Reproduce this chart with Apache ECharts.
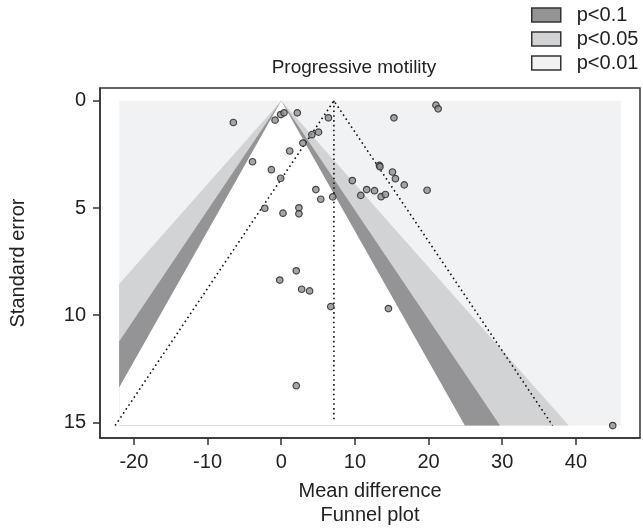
<!DOCTYPE html>
<html>
<head>
<meta charset="utf-8">
<script src="https://cdn.jsdelivr.net/npm/echarts@6/dist/echarts.min.js"></script>
<style>html,body{margin:0;padding:0;background:#fff}#c{width:643px;height:532px}</style>
</head>
<body>
<div id="c"></div>
<script>
// ---- data ----
const meanDiff = [-6.5,-0.84,-0.07,0.38,2.18,6.41,4.16,5.06,2.94,1.15,-3.9,-1.34,-0.07,4.70,5.37,6.99,9.65,10.8,11.6,-2.23,0.24,2.40,2.40,21.0,21.3,15.3,13.33,13.4,15.1,15.5,16.7,19.8,12.66,13.56,14.14,2.04,-0.2,2.77,3.85,6.72,2.04,14.55,45.0];
const stdErr   = [1.01,0.90,0.64,0.56,0.56,0.79,1.58,1.46,1.97,2.34,2.84,3.21,3.61,4.14,4.59,4.48,3.72,4.41,4.14,5.01,5.24,4.99,5.27,0.20,0.37,0.79,3.01,3.07,3.32,3.63,3.92,4.17,4.19,4.47,4.37,7.93,8.36,8.79,8.87,9.60,13.29,9.69,15.15];
const pooledEstimate = 7.15;
const contourLabels = ['p<0.1','p<0.05','p<0.01'];
const contourZ = [1.645, 1.96, 2.576];
const xTicks = [-20,-10,0,10,20,30,40];
const yTicks = [0,5,10,15];
const pValueText = 'p-value=0.02';
const chartTitle = 'Progressive motility';

// region extents (data units)
const SE_MAX = 15.15, X_LO = -22.0, X_HI = 46.1;

const FONT = "'Liberation Sans', Arial, sans-serif";
const TXT = '#222';
const cols = {'p<0.1':'#949497','p<0.05':'#d2d3d5','p<0.01':'#f1f2f4'};

function funnelPoly(z){
  const pts=[[0,0]];
  if (z*SE_MAX <= X_HI) pts.push([z*SE_MAX, SE_MAX]);
  else { pts.push([X_HI, X_HI/z]); pts.push([X_HI, SE_MAX]); }
  if (z*SE_MAX <= -X_LO) pts.push([-z*SE_MAX, SE_MAX]);
  else { pts.push([X_LO, SE_MAX]); pts.push([X_LO, -X_LO/z]); }
  return pts;
}
function polySeries(name, pts, color){
  return {
    type:'custom', name: name, silent:true, z:1,
    data:[[0]],
    itemStyle:{color:color},
    renderItem: function(params, api){
      return {type:'polygon', shape:{points: pts.map(p=>api.coord(p))}, style:{fill:color}};
    }
  };
}
const series = [];
series.push(polySeries('p<0.01', [[X_LO,0],[X_HI,0],[X_HI,SE_MAX],[X_LO,SE_MAX]], cols['p<0.01']));
series.push(polySeries('p<0.05', funnelPoly(contourZ[2]), cols['p<0.05']));
series.push(polySeries('p<0.1', funnelPoly(contourZ[1]), cols['p<0.1']));
series.push(polySeries('inner', funnelPoly(contourZ[0]), '#ffffff'));

const dotted = {color:'#111', width:1.6, type:[1.6,3.2]};
series.push({type:'line', silent:true, symbol:'none', z:3, lineStyle:dotted,
  data:[[pooledEstimate-1.96*SE_MAX, SE_MAX],[pooledEstimate,0],[pooledEstimate+1.96*SE_MAX, SE_MAX]]});
series.push({type:'line', silent:true, symbol:'none', z:3, lineStyle:dotted,
  data:[[pooledEstimate,0],[pooledEstimate,15.0]]});
series.push({type:'scatter', z:5, symbolSize:6.5,
  itemStyle:{color:'#8e8e8e', borderColor:'#222', borderWidth:1.2},
  data: meanDiff.map((x,i)=>[x, stdErr[i]])});

const chart = echarts.init(document.getElementById('c'));
chart.setOption({
  animation:false,
  backgroundColor:'#fff',
  grid:{left:97, top:88, right:3, bottom:93, show:true, borderColor:'#333', borderWidth:1.5, backgroundColor:'#fff'},
  legend:{
    data: contourLabels, orient:'vertical', left:531, top:5, padding:0, itemWidth:29, itemHeight:14, itemGap:4,
    icon:'rect', selectedMode:false,
    itemStyle:{borderColor:'#333', borderWidth:1.5},
    textStyle:{fontFamily:FONT, fontSize:20, color:TXT, padding:[0,0,0,11]}
  },
  xAxis:{
    type:'value', min:-24.6, max:48.7,
    name:'Mean difference\nFunnel plot', nameLocation:'middle', nameGap:41,
    nameTextStyle:{fontFamily:FONT, fontSize:20, color:TXT, lineHeight:24},
    axisLine:{show:true, onZero:false, lineStyle:{color:'#333', width:1.5}},
    axisTick:{show:true, length:7, customValues:xTicks, lineStyle:{color:'#333', width:1.5}},
    axisLabel:{customValues:xTicks, fontFamily:FONT, fontSize:20, color:TXT, margin:14},
    splitLine:{show:false}
  },
  yAxis:{
    type:'value', inverse:true, min:-0.6, max:15.73,
    name:'Standard error', nameLocation:'middle', nameGap:72, nameRotate:90,
    nameTextStyle:{fontFamily:FONT, fontSize:20, color:TXT},
    axisLine:{show:true, onZero:false, lineStyle:{color:'#333', width:1.5}},
    axisTick:{show:true, length:7, customValues:yTicks, lineStyle:{color:'#333', width:1.5}},
    axisLabel:{customValues:yTicks, fontFamily:FONT, fontSize:20, color:TXT, margin:14},
    splitLine:{show:false}
  },
  graphic:[
    {type:'text', x:354, y:68, style:{text:chartTitle, font:"19px 'Liberation Sans', Arial, sans-serif", fill:TXT, align:'center', verticalAlign:'middle'}},
    {type:'text', x:607, y:121, style:{text:pValueText, font:"18px 'Liberation Sans', Arial, sans-serif", fill:TXT, align:'right', verticalAlign:'middle'}}
  ],
  series: series
});
</script>
</body>
</html>
